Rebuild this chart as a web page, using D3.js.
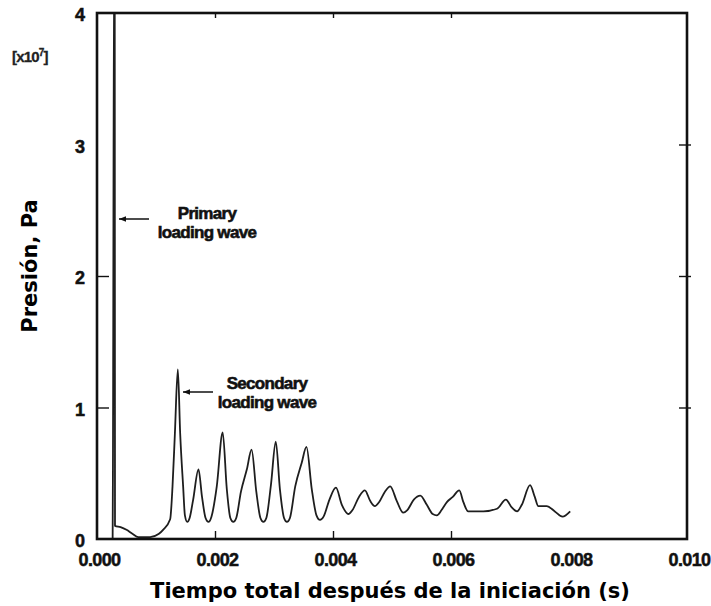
<!DOCTYPE html>
<html>
<head>
<meta charset="utf-8">
<script src="https://cdn.jsdelivr.net/npm/d3@7"></script>
<style>
  html, body { margin: 0; padding: 0; background: #fff; }
  svg { display: block; }
</style>
</head>
<body>
<svg id="chart" width="711" height="606"></svg>
<script>
// Pressure history after detonation (pressure in units of 1e7 Pa)
const timeS = [
  0.000265, 0.000270, 0.000290, 0.000300, 0.000305,
  0.00040, 0.00050, 0.00060, 0.00070, 0.00090, 0.00105, 0.00112,
  0.00124, 0.00128, 0.00132, 0.00137, 0.00141, 0.00146,
  0.00149, 0.00153, 0.00157, 0.00163, 0.00172, 0.00178, 0.00184,
  0.00189, 0.00194, 0.00203, 0.00213, 0.00220, 0.00226,
  0.00231, 0.00236, 0.00244, 0.00254, 0.00262, 0.00270, 0.00277,
  0.00282, 0.00287, 0.00295, 0.00303, 0.00310, 0.00317,
  0.00322, 0.00327, 0.00336, 0.00347, 0.00355, 0.00364, 0.00372,
  0.00378, 0.00384, 0.00394, 0.00405, 0.00415,
  0.00426, 0.00433, 0.00444, 0.00454, 0.00463,
  0.00471, 0.00478, 0.00488, 0.00497, 0.00508,
  0.00519, 0.00526, 0.00537, 0.00548, 0.00559, 0.00569,
  0.00576, 0.00584, 0.00593, 0.00603, 0.00614, 0.00621,
  0.00629, 0.00655, 0.00678, 0.00693, 0.00703,
  0.00712, 0.00720, 0.00734, 0.00742, 0.00748, 0.00762, 0.00776,
  0.00789, 0.00802
];
const pressure = [
  0.00, 0.50, 4.50, 4.50, 0.10,
  0.09, 0.07, 0.04, 0.015, 0.015, 0.04, 0.07,
  0.15, 0.40, 0.80, 1.29, 0.80, 0.40,
  0.18, 0.13, 0.16, 0.30, 0.53, 0.32, 0.16,
  0.13, 0.17, 0.40, 0.81, 0.38, 0.16,
  0.13, 0.16, 0.36, 0.53, 0.68, 0.36, 0.16,
  0.13, 0.16, 0.42, 0.74, 0.38, 0.16,
  0.13, 0.16, 0.40, 0.58, 0.70, 0.38, 0.18,
  0.145, 0.17, 0.30, 0.39, 0.26,
  0.19, 0.22, 0.32, 0.37, 0.29,
  0.25, 0.28, 0.36, 0.40, 0.29,
  0.20, 0.22, 0.30, 0.33, 0.26, 0.19,
  0.18, 0.22, 0.28, 0.32, 0.37, 0.28,
  0.21, 0.21, 0.23, 0.30, 0.24,
  0.21, 0.26, 0.41, 0.32, 0.25, 0.25, 0.21,
  0.17, 0.21
];
const xTickLabels = [0, 0.002, 0.004, 0.006, 0.008, 0.010];
const xMinorTicks = [0.002, 0.004, 0.006];
const yTickLabels = [0, 1, 2, 3, 4];
const yLeftTicks = [1, 2];
const yRightTicks = [1, 2, 3];

const svg = d3.select("#chart");
const frame = { left: 97, right: 687, top: 13, bottom: 539 };

const x = d3.scaleLinear().domain([0, 0.010]).range([frame.left, frame.right]);
const y = d3.scaleLinear().domain([0, 4]).range([frame.bottom, frame.top]);

const defs = svg.append("defs");
defs.append("clipPath").attr("id", "plotClip")
  .append("rect")
  .attr("x", frame.left).attr("y", frame.top)
  .attr("width", frame.right - frame.left)
  .attr("height", frame.bottom - frame.top);

// pressure trace
const points = timeS.map((t, i) => [t, pressure[i]]);
const line = d3.line()
  .x(d => x(d[0]))
  .y(d => y(d[1]))
  .curve(d3.curveMonotoneX);

svg.append("path")
  .datum(points)
  .attr("clip-path", "url(#plotClip)")
  .attr("fill", "none")
  .attr("stroke", "#1e1e1e")
  .attr("stroke-width", 1.8)
  .attr("stroke-linejoin", "round")
  .attr("d", line);

// frame
svg.append("rect")
  .attr("x", frame.left).attr("y", frame.top)
  .attr("width", frame.right - frame.left)
  .attr("height", frame.bottom - frame.top)
  .attr("fill", "none")
  .attr("stroke", "#111")
  .attr("stroke-width", 2.6);

// inner tick marks
function styleTicks(g) {
  g.select(".domain").remove();
  g.selectAll(".tick line").attr("stroke", "#111").attr("stroke-width", 1.4);
}
svg.append("g").attr("transform", `translate(0,${frame.bottom})`)
  .call(d3.axisBottom(x).tickValues(xMinorTicks).tickSize(-8).tickFormat(""))
  .call(styleTicks);
svg.append("g").attr("transform", `translate(0,${frame.top})`)
  .call(d3.axisTop(x).tickValues(xMinorTicks).tickSize(-5).tickFormat(""))
  .call(styleTicks);
svg.append("g").attr("transform", `translate(${frame.left},0)`)
  .call(d3.axisLeft(y).tickValues(yLeftTicks).tickSize(-12).tickFormat(""))
  .call(styleTicks);
svg.append("g").attr("transform", `translate(${frame.right + 4},0)`)
  .call(d3.axisLeft(y).tickValues(yRightTicks).tickSize(12).tickFormat(""))
  .call(styleTicks);

// tick labels
const labelFont = "'Liberation Sans', Arial, sans-serif";
const xLab = svg.append("g").attr("transform", `translate(2,${frame.bottom})`)
  .call(d3.axisBottom(x).tickValues(xTickLabels).tickSize(0).tickPadding(14)
    .tickFormat(d3.format(".3f")));
xLab.select(".domain").remove();
xLab.selectAll("text")
  .attr("font-family", labelFont).attr("font-weight", "bold")
  .attr("font-size", 18).attr("fill", "#111")
  .attr("stroke", "#111").attr("stroke-width", 0.5)
  .attr("letter-spacing", "-0.6");

const yLab = svg.append("g").attr("transform", `translate(${frame.left},2)`)
  .call(d3.axisLeft(y).tickValues(yTickLabels).tickSize(0).tickPadding(12)
    .tickFormat(d3.format("d")));
yLab.select(".domain").remove();
yLab.selectAll("text")
  .attr("font-family", labelFont).attr("font-weight", "bold")
  .attr("font-size", 18).attr("fill", "#111")
  .attr("stroke", "#111").attr("stroke-width", 0.5);

// exponent marker
const expo = svg.append("text")
  .attr("x", 12).attr("y", 62)
  .attr("font-family", labelFont).attr("font-weight", "bold")
  .attr("font-size", 15).attr("fill", "#222")
  .attr("stroke", "#222").attr("stroke-width", 0.3)
  .attr("letter-spacing", "-0.8");
expo.append("tspan").text("[x10");
expo.append("tspan").attr("font-size", 10).attr("dy", -6).text("7");
expo.append("tspan").attr("dy", 6).text("]");

// axis titles
const titleFont = "'DejaVu Sans', Verdana, sans-serif";
svg.append("text")
  .attr("x", 390).attr("y", 598)
  .attr("text-anchor", "middle")
  .attr("font-family", titleFont).attr("font-weight", "bold")
  .attr("font-size", 21).attr("fill", "#000")
  .text("Tiempo total después de la iniciación (s)");

svg.append("text")
  .attr("transform", "translate(37,266) rotate(-90)")
  .attr("text-anchor", "middle")
  .attr("font-family", titleFont).attr("font-weight", "bold")
  .attr("font-size", 21).attr("fill", "#000")
  .text("Presión, Pa");

// annotations
const noteFont = "'Liberation Sans', Arial, sans-serif";
const notes = [
  { lines: ["Primary", "loading wave"], cx: 207, y0: 219, arrow: [149, 119, 219] },
  { lines: ["Secondary", "loading wave"], cx: 267, y0: 389, arrow: [213, 183, 392] }
];
defs.append("marker")
  .attr("id", "arrowHead")
  .attr("viewBox", "0 0 10 10")
  .attr("refX", 10).attr("refY", 5)
  .attr("markerUnits", "userSpaceOnUse")
  .attr("markerWidth", 8).attr("markerHeight", 7)
  .attr("orient", "auto")
  .append("path").attr("d", "M0,1 L10,5 L0,9 Z").attr("fill", "#111");

notes.forEach(n => {
  const t = svg.append("text")
    .attr("text-anchor", "middle")
    .attr("font-family", noteFont).attr("font-weight", "bold")
    .attr("font-size", 17).attr("fill", "#111")
    .attr("stroke", "#111").attr("stroke-width", 0.6)
    .attr("letter-spacing", "-0.7");
  n.lines.forEach((s, i) => {
    t.append("tspan").attr("x", n.cx).attr("y", n.y0 + i * 19).text(s);
  });
  svg.append("line")
    .attr("x1", n.arrow[0]).attr("x2", n.arrow[1])
    .attr("y1", n.arrow[2]).attr("y2", n.arrow[2])
    .attr("stroke", "#111").attr("stroke-width", 1.5)
    .attr("marker-end", "url(#arrowHead)");
});
</script>
</body>
</html>
